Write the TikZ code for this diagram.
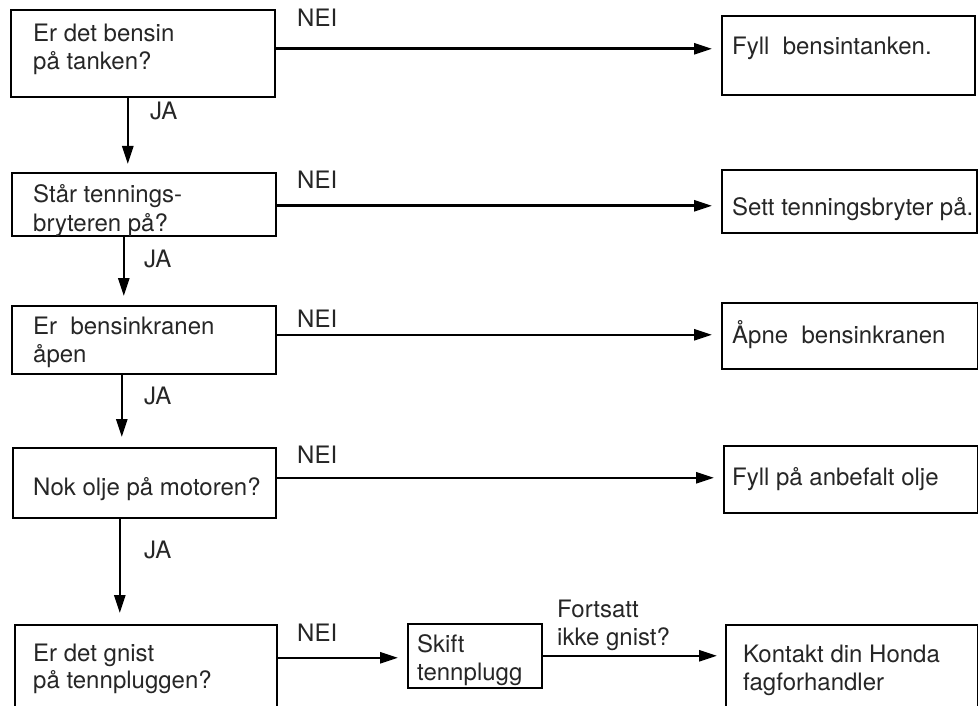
\documentclass[tikz,border=0pt]{standalone}
\usepackage{fontspec}
\setmainfont{TeX Gyre Heros}
\usetikzlibrary{arrows.meta}
\begin{document}
\begin{tikzpicture}[x=1pt,y=-1pt,
  box/.style={draw, line width=1.6pt, inner sep=0pt, anchor=north west},
  txt/.style={inner sep=0pt, anchor=base west, font=\fontsize{24}{28}\selectfont, text=black!85},
  arr/.style={line width=2.6pt, -{Triangle[length=18pt,width=11pt]}, shorten >=9pt}]
\useasboundingbox (0,0) rectangle (978,706);
\clip (0,0) rectangle (978,706);
% question boxes
\node[box, minimum width=264pt, minimum height=87pt] (q1) at (10,9) {};
\node[box, minimum width=264pt, minimum height=63pt] (q2) at (11,172) {};
\node[box, minimum width=264pt, minimum height=68pt] (q3) at (11,305) {};
\node[box, minimum width=263pt, minimum height=70pt] (q4) at (12,447) {};
\node[box, minimum width=262pt, minimum height=100pt] (q5) at (14,624) {};
% action boxes
\node[box, minimum width=253pt, minimum height=79pt] (a1) at (721,15) {};
\node[box, minimum width=255pt, minimum height=63pt] (a2) at (721,169) {};
\node[box, minimum width=256pt, minimum height=66pt] (a3) at (721,302) {};
\node[box, minimum width=254pt, minimum height=67pt] (a4) at (723,445) {};
\node[box, minimum width=134pt, minimum height=64pt] (s) at (407,623) {};
\node[box, minimum width=252pt, minimum height=100pt] (k) at (725,624) {};
% texts
\node[txt] (t1a) at (33,42) {Er det bensin};
\node[txt] (t1b) at (33,70) {på tanken?};
\node[txt] (t2a) at (33,203) {Står tennings-};
\node[txt] (t2b) at (33,231) {bryteren på?};
\node[txt] (t3a) at (33,334) {Er\ \ bensinkranen};
\node[txt] (t3b) at (33,362) {åpen};
\node[txt] (t4a) at (33,495) {Nok olje på motoren?};
\node[txt] (t5a) at (33,661) {Er det gnist};
\node[txt] (t5b) at (33,688) {på tennpluggen?};
\node[txt] (ta1) at (732,55) {Fyll\ \ bensintanken.};
\node[txt] (ta2) at (732,215) {Sett tenningsbryter på.};
\node[txt] (ta3) at (732,343) {Åpne\ \ bensinkranen};
\node[txt] (ta4) at (732,485) {Fyll på anbefalt olje};
\node[txt] (tsa) at (417,652) {Skift};
\node[txt] (tsb) at (417,680) {tennplugg};
\node[txt] (tka) at (743,662) {Kontakt din Honda};
\node[txt] (tkb) at (743,690) {fagforhandler};
% labels
\node[txt] (nei1) at (297,27) {NEI};
\node[txt] (nei2) at (297,189) {NEI};
\node[txt] (nei3) at (297,327) {NEI};
\node[txt] (nei4) at (297,463) {NEI};
\node[txt] (nei5) at (297,641) {NEI};
\node[txt] (ja1) at (150,120) {JA};
\node[txt] (ja2) at (144,267) {JA};
\node[txt] (ja3) at (144,404) {JA};
\node[txt] (ja4) at (144,558) {JA};
\node[txt] (fa) at (557,617) {Fortsatt};
\node[txt] (fb) at (557,645) {ikke gnist?};
% horizontal connectors
\coordinate (n1) at ([yshift=4.5pt]q1.east);
\coordinate (n2) at ([yshift=-1.5pt]q2.east);
\coordinate (n3) at ([yshift=5pt]q3.east);
\coordinate (n4) at ([yshift=5pt]q4.east);
\coordinate (n5) at ([yshift=17pt]q5.east);
\draw[arr] (n1) -- (n1 -| a1.west);
\draw[arr] (n2) -- (n2 -| a2.west);
\draw[arr] (n3) -- (n3 -| a3.west);
\draw[arr] (n4) -- (n4 -| a4.west);
\draw[arr] (n5) -- (n5 -| s.west);
\draw[arr, shorten >=8pt] (s.east) -- (s.east -| k.west);
% vertical connectors
\coordinate (v1) at ([xshift=-15pt]q1.south);
\coordinate (v2) at ([xshift=-20pt]q2.south);
\coordinate (v3) at ([xshift=-22pt]q3.south);
\coordinate (v4) at ([xshift=-24.5pt]q4.south);
\draw[arr, shorten >=8pt] (v1) -- (v1 |- q2.north);
\draw[arr] (v2) -- (v2 |- q3.north);
\draw[arr, shorten >=10pt] (v3) -- (v3 |- q4.north);
\draw[arr, shorten >=11pt] (v4) -- (v4 |- q5.north);
\end{tikzpicture}
\end{document}
